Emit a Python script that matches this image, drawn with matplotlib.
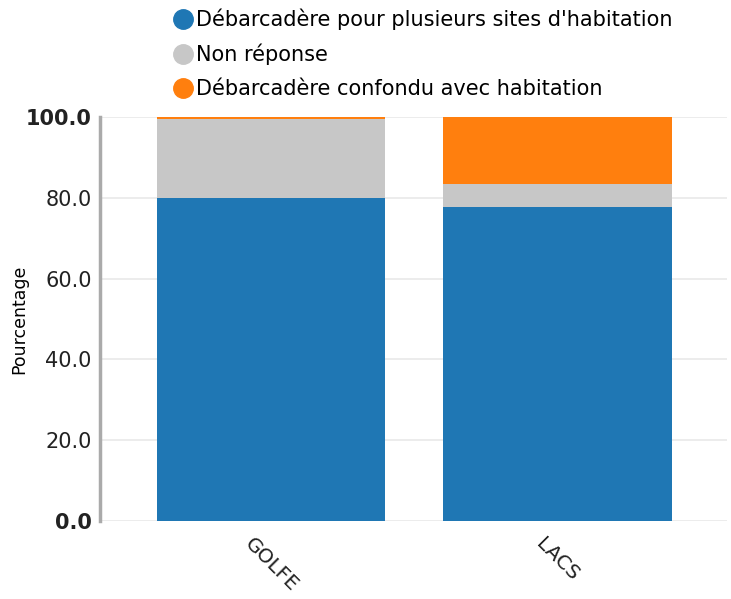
import matplotlib
matplotlib.use("Agg")
import matplotlib.pyplot as plt
from matplotlib.lines import Line2D

categories = ["GOLFE", "LACS"]
series_names = ["Débarcadère pour plusieurs sites d'habitation", "Non réponse",
                "Débarcadère confondu avec habitation"]
multi_site = [80.0, 77.7]
no_answer = [19.6, 5.6]
merged = [0.4, 16.7]
colors = ["#1f77b4", "#c7c7c7", "#ff7f0e"]
yticks = [0, 20, 40, 60, 80, 100]

plt.rcParams['font.family'] = ['DejaVu Sans']
fig = plt.figure(figsize=(7.31, 5.99), dpi=100)
ax = fig.add_axes([100/731, 1-521/599, 627/731, 404/599])

x = list(range(len(categories)))
bottom = [0]*len(categories)
for vals, col in zip([multi_site, no_answer, merged], colors):
    ax.bar(x, vals, bottom=bottom, width=0.8, color=col, zorder=2)
    bottom = [b + v for b, v in zip(bottom, vals)]

ax.set_xlim(-0.598, 1.594)
ax.set_ylim(0, 100)
ax.set_yticks(yticks)
ax.set_yticklabels([f"{v:.1f}" for v in yticks], fontsize=15, color="#222222")
for lbl, v in zip(ax.get_yticklabels(), yticks):
    if v in (0, 100):
        lbl.set_fontweight("bold")
ax.tick_params(axis='y', length=0, pad=6)
ax.tick_params(axis='x', length=0, pad=10)
ax.set_xticks(x)
ax.set_xticklabels(categories, rotation=-45, ha='center', fontsize=14.5, color="#222222")
ax.grid(axis='y', color="#ebebeb", linewidth=1.3, zorder=0)
for s in ['top', 'right', 'bottom']:
    ax.spines[s].set_visible(False)
ax.spines['left'].set_color("#aaaaaa")
ax.spines['left'].set_linewidth(2.5)
ax.set_ylabel("Pourcentage", fontsize=12.5)
ax.yaxis.set_label_coords(-0.115, 0.5)

handles = [Line2D([], [], marker='o', ls='', markersize=14, color=c) for c in colors]
fig.legend(handles, series_names, loc='upper left', bbox_to_anchor=(160/731, 1.0 + 4/599),
           frameon=False, fontsize=15, handletextpad=0.12, labelspacing=0.67,
           handlelength=1.0, borderaxespad=0.2)

fig.savefig("out.png", dpi=100)
